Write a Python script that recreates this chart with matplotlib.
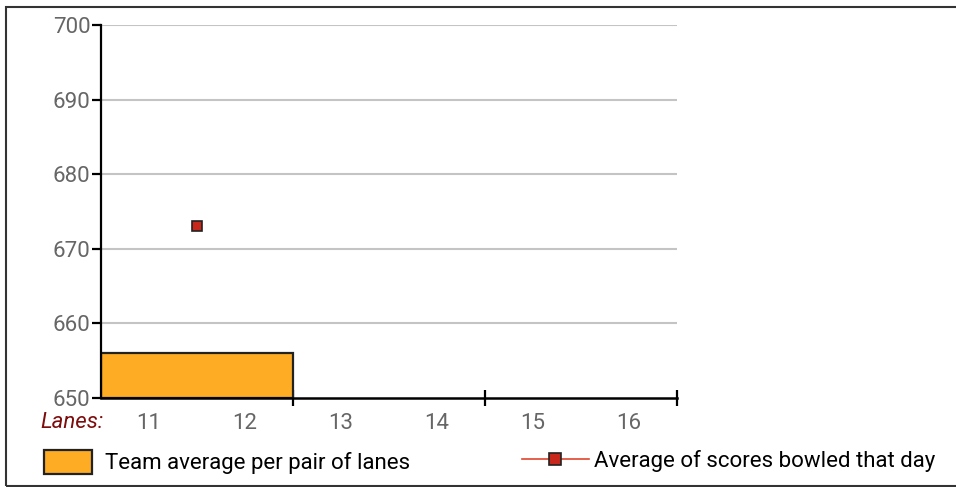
import numpy as np
import matplotlib.pyplot as plt
from matplotlib.patches import Patch, Rectangle
from matplotlib.lines import Line2D

plt.rcParams['font.family'] = ['Roboto', 'DejaVu Sans']

# Data
lanes = [11, 12, 13, 14, 15, 16]
pair_centers = np.array([11.5, 13.5, 15.5])
team_average = np.array([656, np.nan, np.nan])
day_average = np.array([673, np.nan, np.nan])
y_ticks = [650, 660, 670, 680, 690, 700]

bar_color = '#fdac24'
marker_color = '#c8281c'
line_color = '#e0452e'
label_gray = '#666666'

fig = plt.figure(figsize=(9.56, 4.87), dpi=100)
ax = fig.add_axes([101 / 956, 1 - 398 / 487, 576 / 956, 373 / 487])

# Bars: one per pair of lanes
ax.bar(pair_centers, team_average - 650, width=2.0, bottom=650,
       color=bar_color, edgecolor='#222222', linewidth=1.6, zorder=2)

# Day average markers
ax.plot(pair_centers, day_average, color=line_color, linewidth=1.2,
        marker='s', markersize=6.5, markerfacecolor=marker_color,
        markeredgecolor='#222222', markeredgewidth=1.2, zorder=4)

ax.set_xlim(10.5, 16.5)
ax.set_ylim(650, 700)

# Grid
for yv in y_ticks[1:]:
    ax.axhline(yv, color='#c4c4c4', linewidth=1.5, zorder=0)

# Spines
for s in ['top', 'right']:
    ax.spines[s].set_visible(False)
ax.spines['left'].set_linewidth(1.6)
ax.spines['bottom'].set_linewidth(1.8)

# Y ticks
ax.set_yticks(y_ticks)
ax.tick_params(axis='y', length=6.5, width=1.6, color='black',
               labelsize=16, labelcolor=label_gray, pad=1)

# X ticks: labels at lanes, tick marks at pair boundaries
ax.set_xticks(lanes)
ax.set_xticklabels([str(l) for l in lanes])
ax.tick_params(axis='x', which='major', length=0, labelsize=16,
               labelcolor=label_gray, pad=11)
ax.set_xticks([12.5, 14.5, 16.5], minor=True)
ax.tick_params(axis='x', which='minor', direction='inout', length=12,
               width=1.6, color='black')

fig.text(104 / 956, 1 - 422 / 487, 'Lanes:', color='#7d0c0c', style='italic',
         fontsize=16, ha='right', va='center')

# Legends
h1 = Patch(facecolor=bar_color, edgecolor='#222222', linewidth=1.6)
leg1 = fig.legend([h1], ['Team average per pair of lanes'],
                  loc='center left', bbox_to_anchor=(24 / 956, 1 - 462 / 487),
                  frameon=False, fontsize=16, handlelength=2.16,
                  handleheight=1.35, handletextpad=0.6)
h2 = Line2D([], [], color=line_color, linewidth=1.2, marker='s',
            markersize=9, markerfacecolor=marker_color,
            markeredgecolor='#222222', markeredgewidth=1.2)
leg2 = fig.legend([h2], ['Average of scores bowled that day'],
                  loc='center left', bbox_to_anchor=(502 / 956, 1 - 461 / 487),
                  frameon=False, fontsize=16, handlelength=3.0,
                  handletextpad=0.22)

# Outer frame (open on the right)
fig.patches.append(Rectangle((6 / 956, 1 - 486 / 487), 1.0, 479 / 487,
                             transform=fig.transFigure, fill=False,
                             edgecolor='#333333', linewidth=1.5))

fig.savefig('out.png', dpi=100)
